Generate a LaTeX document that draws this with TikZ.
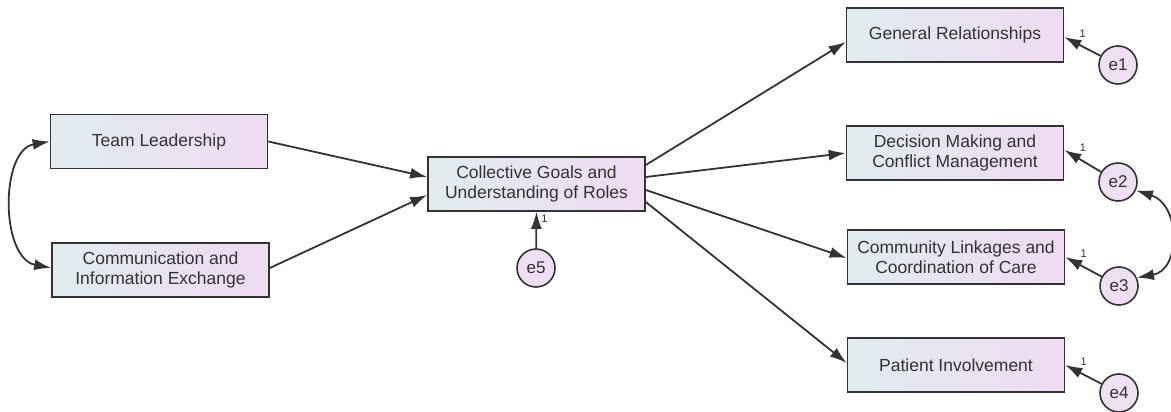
\documentclass[tikz,border=0pt]{standalone}
\usepackage{fontspec}
\setmainfont{Liberation Sans}
\usetikzlibrary{arrows.meta}
\definecolor{ink}{HTML}{333333}
\definecolor{boxL}{HTML}{E1ECEE}
\definecolor{boxR}{HTML}{EFDBF3}
\definecolor{errfill}{HTML}{EEDFF3}
\tikzset{
  obs/.style={draw=ink, line width=1.6pt, minimum width=217pt, minimum height=54pt,
    left color=boxL, right color=boxR, align=center, text=ink,
    font=\fontsize{17.5}{20.5}\selectfont, inner sep=0pt},
  err/.style={draw=ink, line width=1.6pt, circle, minimum size=38pt, inner sep=0pt,
    fill=errfill, text=ink, font=\fontsize{17}{20}\selectfont},
  path/.style={draw=ink, line width=1.8pt, -{Latex[length=17pt,width=11pt]}},
  cov/.style={draw=ink, line width=1.8pt, {Latex[length=17pt,width=11pt]}-{Latex[length=17pt,width=11pt]}},
  wt/.style={text=ink, font=\fontsize{11}{13}\selectfont, inner sep=1pt},
  wtr/.style={wt, anchor=south west, xshift=-1pt, yshift=5pt}
}
\begin{document}
\begin{tikzpicture}[x=1pt, y=-1pt]
\useasboundingbox (0,0) rectangle (1171,412);

% exogenous factors
\node[obs] (tl) at (159,141.5) {Team Leadership};
\node[obs] (ci) at (160.5,270) {Communication and\\Information Exchange};

% mediator
\node[obs] (cg) at (536.5,184) {Collective Goals and\\Understanding of Roles};
\node[err] (e5) at (536,268) {e5};

% outcomes
\node[obs] (gr) at (955,35) {General Relationships};
\node[obs] (dm) at (955,153) {Decision Making and\\Conflict Management};
\node[obs] (cl) at (956,257) {Community Linkages and\\Coordination of Care};
\node[obs] (pi) at (956,365) {Patient Involvement};

\node[err] (e1) at (1118,65) {e1};
\node[err] (e2) at (1118,182) {e2};
\node[err] (e3) at (1119,286) {e3};
\node[err] (e4) at (1119,393) {e4};

% structural paths
\draw[path] (tl.east) -- ([yshift=7pt]cg.west);
\draw[path] ([yshift=2pt]ci.east) -- ([yshift=-11pt]cg.west);
\draw[path] ([yshift=19pt]cg.east) -- ([yshift=-7pt]gr.west);
\draw[path] ([yshift=7pt]cg.east) -- (dm.west);
\draw[path] ([yshift=-6pt]cg.east) -- ([yshift=-1pt]cl.west);
\draw[path] ([yshift=-18pt]cg.east) -- ([yshift=2pt]pi.west);

% residual paths with fixed weights
\draw[path] (e5) -- (cg.south) node[wt, pos=0.82, right=3pt] {1};
\draw[path] (e1) -- ([yshift=-2pt]gr.east) node[wtr, pos=0.6] {1};
\draw[path] (e2) -- ([yshift=3pt]dm.east) node[wtr, pos=0.6] {1};
\draw[path] (e3) -- (cl.east) node[wtr, pos=0.6] {1};
\draw[path] (e4) -- (pi.east) node[wtr, pos=0.6] {1};

% covariances
\coordinate (tlw) at (tl.west);
\coordinate (ciw) at ([yshift=2pt]ci.west);
\draw[cov] (tlw) .. controls (0,150) and (0,258) .. (ciw);
\draw[cov] (e2.-25) .. controls (1181,205) and (1181,270) .. (e3.25);
\end{tikzpicture}
\end{document}
